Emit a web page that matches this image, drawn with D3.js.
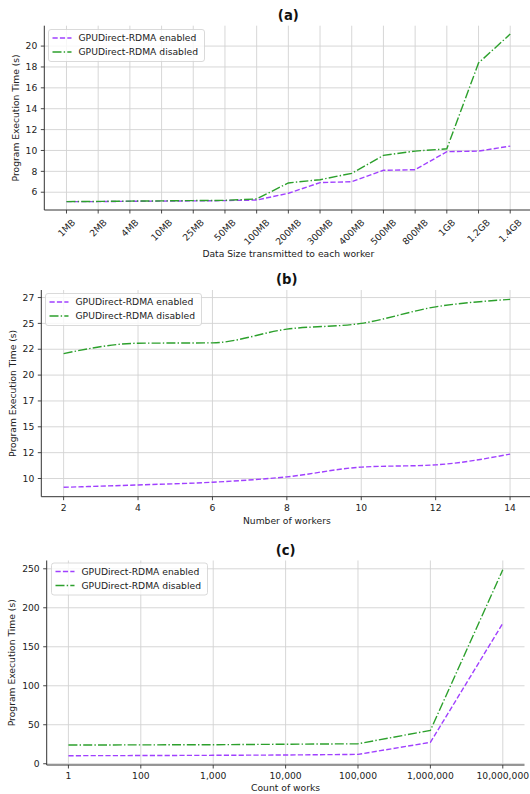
<!DOCTYPE html>
<html>
<head>
<meta charset="utf-8">
<script src="https://cdn.jsdelivr.net/npm/d3@7"></script>
<style>
  html, body { margin: 0; padding: 0; background: #fff; }
  svg { display: block; font-family: "DejaVu Sans", sans-serif; }
</style>
</head>
<body>
<svg id="chart" width="530" height="794"></svg>
<script>
// ---- Data ----
const seriesNames = ["GPUDirect-RDMA enabled", "GPUDirect-RDMA disabled"];

const sizeCategories = ["1MB","2MB","4MB","10MB","25MB","50MB","100MB","200MB","300MB","400MB","500MB","800MB","1GB","1.2GB","1.4GB"];
const sizeEnabled  = [5.1, 5.1, 5.13, 5.15, 5.17, 5.2, 5.25, 5.9, 6.92, 7.01, 8.1, 8.16, 9.88, 9.94, 10.42];
const sizeDisabled = [5.1, 5.12, 5.15, 5.17, 5.2, 5.22, 5.36, 6.89, 7.2, 7.81, 9.53, 9.94, 10.16, 18.38, 21.15];
const sizeTicks = [6, 8, 10, 12, 14, 16, 18, 20];

const workers = [2, 4, 6, 8, 10, 12, 14];
const workersEnabled  = [9.15, 9.38, 9.64, 10.16, 11.1, 11.32, 12.36];
const workersDisabled = [22.08, 23.08, 23.12, 24.44, 25.0, 26.6, 27.32];
const workersYTicks = [10, 12.5, 15, 17.5, 20, 22.5, 25, 27.5];
const workersXTicks = [2, 4, 6, 8, 10, 12, 14];

const countCategories = ["1", "100", "1,000", "10,000", "100,000", "1,000,000", "10,000,000"];
const countEnabled  = [10.3, 10.5, 10.8, 11.2, 12.0, 27.4, 180.0];
const countDisabled = [24.0, 24.2, 24.4, 25.0, 25.6, 42.8, 248.7];
const countTicks = [0, 50, 100, 150, 200, 250];

// ---- Styles ----
const colors = ["#a040ff", "#2ca02c"];
const dashes = ["5.2,2.2", "9,2.2,1.4,2.2"];
const FS = 9.2;

const svg = d3.select("#chart");

function extentPad(arrs) {
  const all = arrs.flat();
  const lo = d3.min(all), hi = d3.max(all);
  const m = (hi - lo) * 0.05;
  return [lo - m, hi + m];
}

function drawPanel(cfg) {
  const g = svg.append("g");
  const {left, right, top, bottom} = cfg;
  let x, xVals, xTickVals, xTickLabel;
  if (cfg.categorical) {
    x = d3.scalePoint().domain(cfg.categories).range([left, right]).padding((cfg.categories.length - 1) * 0.05);
    xVals = cfg.categories;
    xTickVals = cfg.categories;
    xTickLabel = d => d;
  } else {
    const lo = d3.min(cfg.xs), hi = d3.max(cfg.xs), m = (hi - lo) * 0.05;
    x = d3.scaleLinear().domain([lo - m, hi + m]).range([left, right]);
    xVals = cfg.xs;
    xTickVals = cfg.xTicks;
    xTickLabel = d => String(d);
  }
  const y = d3.scaleLinear().domain(extentPad(cfg.series)).range([bottom, top]);

  // grid
  g.append("g").selectAll("line").data(xTickVals).join("line")
    .attr("x1", d => x(d)).attr("x2", d => x(d)).attr("y1", top).attr("y2", bottom)
    .attr("stroke", "#d3d3d3").attr("stroke-width", 0.9);
  g.append("g").selectAll("line").data(cfg.yTicks).join("line")
    .attr("x1", left).attr("x2", right).attr("y1", d => y(d)).attr("y2", d => y(d))
    .attr("stroke", "#d3d3d3").attr("stroke-width", 0.9);

  // lines
  cfg.series.forEach((vals, i) => {
    const line = d3.line()
      .x((d, j) => x(xVals[j]))
      .y(d => y(d));
    if (cfg.smooth) line.curve(d3.curveMonotoneX);
    g.append("path").datum(vals)
      .attr("d", line)
      .attr("fill", "none")
      .attr("stroke", colors[i])
      .attr("stroke-width", 1.4)
      .attr("stroke-dasharray", dashes[i]);
  });

  // spines
  g.append("line").attr("x1", left).attr("x2", left).attr("y1", top).attr("y2", bottom)
    .attr("stroke", "#333").attr("stroke-width", 1);
  g.append("line").attr("x1", left).attr("x2", right).attr("y1", bottom).attr("y2", bottom)
    .attr("stroke", "#333").attr("stroke-width", 1);

  // y ticks
  const yt = g.append("g").selectAll("g").data(cfg.yTicks).join("g");
  yt.append("line").attr("x1", left - 3.5).attr("x2", left).attr("y1", d => y(d)).attr("y2", d => y(d))
    .attr("stroke", "#333").attr("stroke-width", 0.9);
  yt.append("text").attr("x", left - 7).attr("y", d => y(d)).attr("dy", "0.35em")
    .attr("text-anchor", "end").attr("font-size", FS).attr("fill", "#222")
    .text(d => cfg.yFormat ? cfg.yFormat(d) : d);

  // x ticks
  const xt = g.append("g").selectAll("g").data(xTickVals).join("g");
  xt.append("line").attr("x1", d => x(d)).attr("x2", d => x(d)).attr("y1", bottom).attr("y2", bottom + 3.5)
    .attr("stroke", "#333").attr("stroke-width", 0.9);
  if (cfg.rotate) {
    xt.append("text").attr("text-anchor", "middle").attr("dy", "0.35em")
      .attr("font-size", FS).attr("fill", "#222")
      .text(xTickLabel)
      .each(function(d) {
        const w = this.getComputedTextLength();
        const h = FS * 1.16;
        const bh = (w + h) * Math.SQRT1_2;
        const cy = bottom + 7 + bh / 2;
        d3.select(this).attr("transform", `translate(${x(d)},${cy}) rotate(-45)`);
      });
  } else {
    xt.append("text").attr("x", d => x(d)).attr("y", bottom + 14)
      .attr("text-anchor", "middle").attr("font-size", FS).attr("fill", "#222")
      .text(xTickLabel);
  }

  // axis labels
  g.append("text").attr("x", (left + Math.min(right, 530) + (right > 530 ? (right - 530) : 0)) / 2)
    .attr("x", (left + right) / 2).attr("y", cfg.xLabelY)
    .attr("text-anchor", "middle").attr("font-size", FS).attr("fill", "#222").text(cfg.xLabel);
  g.append("text").attr("transform", `translate(${cfg.yLabelX},${(top + bottom) / 2}) rotate(-90)`)
    .attr("text-anchor", "middle").attr("font-size", FS).attr("fill", "#222").text("Program Execution Time (s)");

  // title
  g.append("text").attr("x", (left + right) / 2).attr("y", top - 6)
    .attr("text-anchor", "middle").attr("font-size", 13.2).attr("font-weight", "bold")
    .attr("fill", "#111").text(cfg.title);

  // legend
  const lg = g.append("g").attr("transform", `translate(${cfg.legendX},${cfg.legendY})`);
  lg.append("rect").attr("x", 0).attr("y", 0).attr("width", 156).attr("height", 32)
    .attr("rx", 2.5).attr("fill", "#fff").attr("fill-opacity", 0.8)
    .attr("stroke", "#d0d0d0").attr("stroke-width", 0.8);
  seriesNames.forEach((name, i) => {
    const ry = 8.5 + i * 14;
    lg.append("line").attr("x1", 4).attr("x2", 23).attr("y1", ry).attr("y2", ry)
      .attr("stroke", colors[i]).attr("stroke-width", 1.4).attr("stroke-dasharray", dashes[i]);
    lg.append("text").attr("x", 30).attr("y", ry).attr("dy", "0.35em")
      .attr("font-size", FS).attr("fill", "#222").text(name);
  });
}

drawPanel({
  title: "(a)", categorical: true, categories: sizeCategories,
  series: [sizeEnabled, sizeDisabled], yTicks: sizeTicks,
  left: 44.3, right: 532.4, top: 25.7, bottom: 210,
  rotate: true, xLabel: "Data Size transmitted to each worker", xLabelY: 256.5, yLabelX: 18.5,
  legendX: 48.5, legendY: 29.5
});

drawPanel({
  title: "(b)", categorical: false, xs: workers, xTicks: workersXTicks,
  series: [workersEnabled, workersDisabled], yTicks: workersYTicks,
  yFormat: d => String(Math.floor(d)), smooth: true,
  left: 41.3, right: 532.4, top: 290, bottom: 496.7,
  xLabel: "Number of workers", xLabelY: 523.5, yLabelX: 16,
  legendX: 45.5, legendY: 293.5
});

drawPanel({
  title: "(c)", categorical: true, categories: countCategories,
  series: [countEnabled, countDisabled], yTicks: countTicks,
  left: 46.7, right: 524.5, top: 560.5, bottom: 765,
  xLabel: "Count of works", xLabelY: 791, yLabelX: 15,
  legendX: 51.5, legendY: 563
});
</script>
</body>
</html>
